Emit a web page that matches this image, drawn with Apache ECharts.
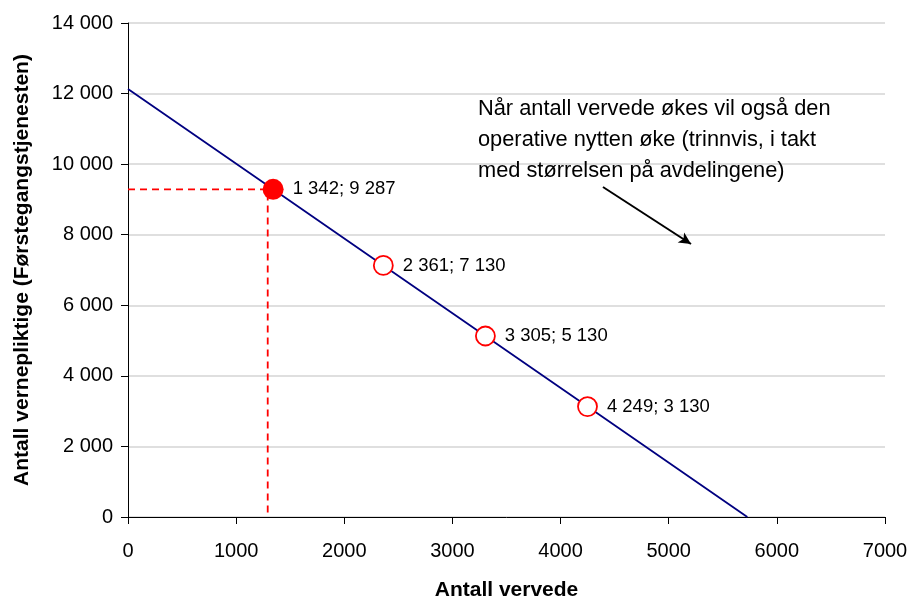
<!DOCTYPE html>
<html>
<head>
<meta charset="utf-8">
<script src="https://cdn.jsdelivr.net/npm/echarts@6/dist/echarts.min.js"></script>
<style>
  html, body { margin: 0; padding: 0; background: #fff; }
  #chart { width: 910px; height: 599px; }
</style>
</head>
<body>
<div id="chart"></div>
<script>
// Trend line: number of recruits vs. conscripts
const lineX = [0, 1342, 2361, 3305, 4249, 5727];
const lineY = [12130, 9287, 7130, 5130, 3130, 0];

// Current situation (filled marker)
const currentX = [1342];
const currentY = [9287];

// Steps along the line (hollow markers)
const stepX = [2361, 3305, 4249];
const stepY = [7130, 5130, 3130];

// Dashed guide lines to the axes
const guideX = 1292;
const guideY = 9287;

// Arrow pointing down the line (data coordinates)
const arrowFrom = [4392, 9352];
const arrowTo = [5206, 7737];

const annotationLines = [
  'Når antall vervede økes vil også den',
  'operative nytten øke (trinnvis, i takt',
  'med størrelsen på avdelingene)'
];

const xTitle = 'Antall vervede';
const yTitle = 'Antall vernepliktige (Førstegangstjenesten)';

const FONT = '"Liberation Sans", Arial, sans-serif';

function fmt(n) {
  return String(n).replace(/\B(?=(\d{3})+(?!\d))/g, ' ');
}
function pointLabel(x, y) {
  return fmt(x) + '; ' + fmt(y);
}

const chart = echarts.init(document.getElementById('chart'), null, { renderer: 'canvas' });

const option = {
  animation: false,
  backgroundColor: '#ffffff',
  textStyle: { fontFamily: FONT },
  grid: { left: 128, right: 25, top: 23, bottom: 82, containLabel: false, outerBoundsMode: 'none' },
  xAxis: {
    type: 'value',
    min: 0, max: 7000, interval: 1000,
    name: xTitle,
    nameLocation: 'middle',
    nameGap: 63,
    nameTextStyle: { fontFamily: FONT, fontSize: 21, fontWeight: 'bold', color: '#000' },
    axisLine: { show: true, lineStyle: { color: '#000', width: 1 } },
    axisTick: { show: true, length: 7, lineStyle: { color: '#000' } },
    axisLabel: { fontFamily: FONT, fontSize: 20, color: '#000', margin: 24, formatter: v => String(v) },
    splitLine: { show: false }
  },
  yAxis: {
    type: 'value',
    min: 0, max: 14000, interval: 2000,
    name: yTitle,
    nameLocation: 'middle',
    nameGap: 95,
    nameRotate: 90,
    nameTextStyle: { fontFamily: FONT, fontSize: 21, fontWeight: 'bold', color: '#000' },
    axisLine: { show: true, lineStyle: { color: '#000', width: 1 } },
    axisTick: { show: true, length: 7, lineStyle: { color: '#000' } },
    axisLabel: { fontFamily: FONT, fontSize: 20, color: '#000', margin: 15, formatter: v => fmt(v) },
    splitLine: { show: true, lineStyle: { color: '#d4d4d4', width: 1.5 } }
  },
  graphic: [
    {
      type: 'text',
      left: 478,
      top: 93,
      style: {
        text: annotationLines.join('\n'),
        font: '21.8px ' + FONT,
        fill: '#000',
        lineHeight: 31
      },
      z: 10
    }
  ],
  series: [
    {
      name: 'guide',
      type: 'line',
      data: [[0, guideY], [guideX, guideY], [guideX, 0]],
      symbol: 'none',
      lineStyle: { color: '#ff0000', width: 1.8, type: [7, 5] },
      silent: true,
      z: 1
    },
    {
      name: 'trend',
      type: 'line',
      data: lineX.map((x, i) => [x, lineY[i]]),
      symbol: 'none',
      lineStyle: { color: '#000080', width: 1.8 },
      silent: true,
      z: 2,
      markLine: {
        silent: true,
        symbol: ['none', 'arrow'],
        symbolSize: [9, 12],
        label: { show: false },
        lineStyle: { color: '#000', width: 2, type: 'solid' },
        data: [[{ coord: arrowFrom }, { coord: arrowTo }]]
      }
    },
    {
      name: 'current',
      type: 'scatter',
      data: currentX.map((x, i) => [x, currentY[i]]),
      symbol: 'circle',
      symbolSize: 21,
      itemStyle: { color: '#ff0000', opacity: 1 },
      label: {
        show: true,
        position: 'right',
        distance: 9,
        fontFamily: FONT,
        fontSize: 18.5,
        color: '#000',
        formatter: p => pointLabel(p.value[0], p.value[1])
      },
      z: 5
    },
    {
      name: 'steps',
      type: 'scatter',
      data: stepX.map((x, i) => [x, stepY[i]]),
      symbol: 'circle',
      symbolSize: 19,
      itemStyle: { color: '#ffffff', borderColor: '#ff0000', borderWidth: 1.8, opacity: 1 },
      label: {
        show: true,
        position: 'right',
        distance: 9,
        fontFamily: FONT,
        fontSize: 18.5,
        color: '#000',
        formatter: p => pointLabel(p.value[0], p.value[1])
      },
      z: 5
    }
  ]
};

chart.setOption(option);
</script>
</body>
</html>
